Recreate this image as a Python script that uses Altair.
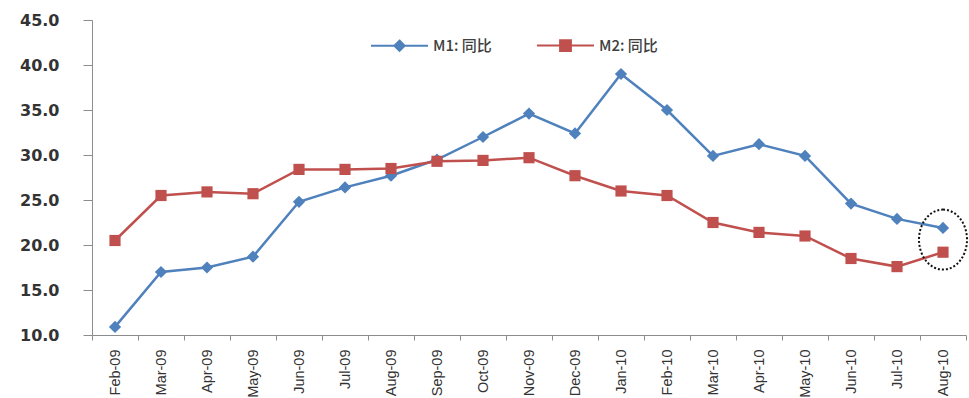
import altair as alt
import pandas as pd

months = ["Feb-09", "Mar-09", "Apr-09", "May-09", "Jun-09", "Jul-09", "Aug-09", "Sep-09",
          "Oct-09", "Nov-09", "Dec-09", "Jan-10", "Feb-10", "Mar-10", "Apr-10", "May-10",
          "Jun-10", "Jul-10", "Aug-10"]
m1 = [10.9, 17.0, 17.5, 18.7, 24.8, 26.4, 27.7, 29.5, 32.0, 34.6, 32.4, 39.0, 35.0,
      29.9, 31.2, 29.9, 24.6, 22.9, 21.9]
m2 = [20.5, 25.5, 25.9, 25.7, 28.4, 28.4, 28.5, 29.3, 29.4, 29.7, 27.7, 26.0, 25.5,
      22.5, 21.4, 21.0, 18.5, 17.6, 19.2]
series_names = ["M1: 同比", "M2: 同比"]
series_colors = ["#4f81bd", "#c0504d"]
y_ticks = [10, 15, 20, 25, 30, 35, 40, 45]
highlight_month = ["Aug-10"]
highlight_value = [20.6]

rows = []
for name, vals in zip(series_names, [m1, m2]):
    for mo, v in zip(months, vals):
        rows.append({"month": mo, "value": v, "series": name})
df = pd.DataFrame(rows)
hl = pd.DataFrame({"month": highlight_month, "value": highlight_value})

x_enc = alt.X("month:N", sort=months,
              scale=alt.Scale(domain=months, paddingInner=0, paddingOuter=0),
              axis=alt.Axis(title=None, labelAngle=270, tickBand="extent",
                            labelFont="Liberation Sans", labelFontSize=14.5,
                            labelColor="#333333", labelPadding=9, tickSize=5,
                            domainColor="#8c8c8c", tickColor="#8c8c8c", grid=False))
y_enc = alt.Y("value:Q",
              scale=alt.Scale(domain=[10, 45], nice=False, zero=False),
              axis=alt.Axis(title=None, values=y_ticks, format=".1f",
                            labelFont="DejaVu Sans", labelFontSize=16, labelFontWeight="bold",
                            labelColor="#333333", labelPadding=24, tickSize=9,
                            domainColor="#8c8c8c", tickColor="#8c8c8c", grid=False))

# colour scale for the plotted marks (listed in reverse so its hidden legend stays separate)
cscale = alt.Scale(domain=series_names[::-1], range=series_colors[::-1])
base = alt.Chart(df).encode(x=x_enc, y=y_enc)

lines = base.mark_line(strokeWidth=2.5).encode(
    color=alt.Color("series:N", scale=cscale, legend=None))
pts_m1 = base.transform_filter(alt.datum.series == series_names[0]).mark_point(
    shape="diamond", filled=True, size=150, opacity=1).encode(
    color=alt.Color("series:N", scale=cscale, legend=None))
pts_m2 = base.transform_filter(alt.datum.series == series_names[1]).mark_point(
    shape="square", filled=True, size=125, opacity=1).encode(
    color=alt.Color("series:N", scale=cscale, legend=None))

legend_paths = [
    "M-1,0L1,0M0,-0.18L0.18,0L0,0.18L-0.18,0Z",
    "M-1,0L1,0M-0.19,-0.19L0.19,-0.19L0.19,0.19L-0.19,0.19Z",
]
leg = alt.Legend(title=None, orient="none", legendX=278, legendY=-4, direction="horizontal",
                 labelFont="Noto Sans CJK SC", labelFontSize=15, labelColor="#404040",
                 labelFontWeight=500, symbolSize=3249, symbolStrokeWidth=2,
                 symbolOpacity=1, labelOffset=4, columnPadding=41)
legend_layer = base.transform_filter("false").mark_point(
    filled=True, size=3249, strokeWidth=2, opacity=1).encode(
    shape=alt.Shape("series:N", scale=alt.Scale(domain=series_names, range=legend_paths), legend=leg),
    fill=alt.Fill("series:N", scale=alt.Scale(domain=series_names, range=series_colors), legend=leg),
    stroke=alt.Stroke("series:N", scale=alt.Scale(domain=series_names, range=series_colors), legend=leg),
)

ellipse = alt.Chart(hl).mark_point(
    shape="M0,-1A0.8,1 0 1,1 0,1A0.8,1 0 1,1 0,-1Z", size=3600, filled=False,
    stroke="#111111", strokeWidth=2, strokeDash=[2, 2], opacity=1).encode(
    x=alt.X("month:N", sort=months), y=alt.Y("value:Q"))

chart = alt.layer(lines, pts_m1, pts_m2, legend_layer, ellipse).properties(
    width=874, height=315,
    autosize=alt.AutoSizeParams(type="none"),
    padding={"left": 92, "top": 20, "right": 3, "bottom": 63},
    background="white",
).configure_view(stroke=None)

chart.save("out.html", embed_options={"renderer": "svg", "actions": False})
